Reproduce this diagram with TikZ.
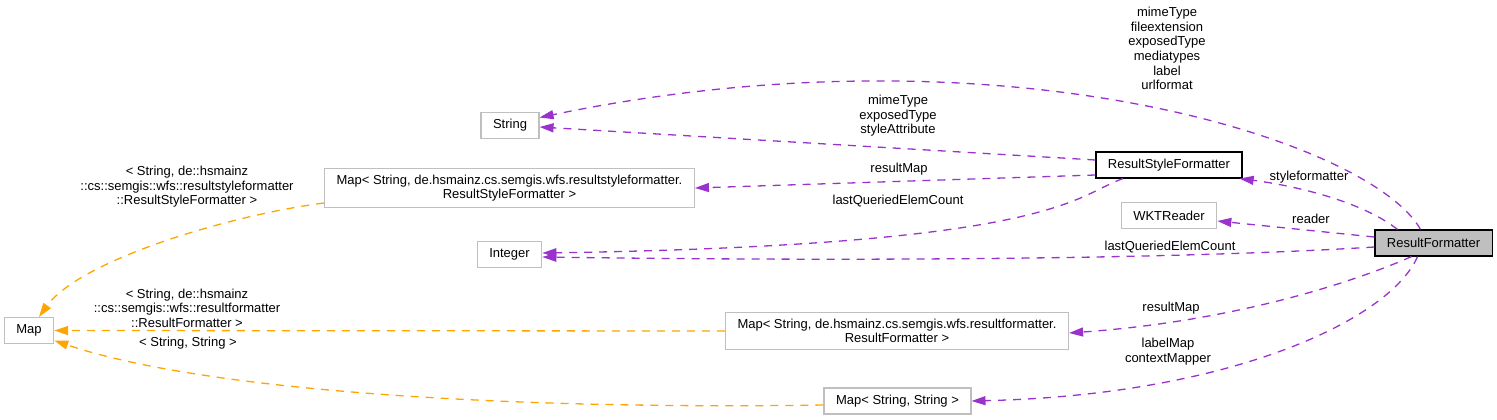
\documentclass[tikz,border=0pt]{standalone}
\usepackage{fontspec}
\setmainfont{Liberation Sans}
\usetikzlibrary{arrows.meta}
\definecolor{darkorchid3}{RGB}{154,50,205}
\definecolor{orange1}{RGB}{255,165,0}
\definecolor{grey75}{RGB}{191,191,191}
\newcommand{\graphfont}{\fontsize{13}{14.6}\selectfont}
\tikzstyle{cls} = [rectangle, draw=grey75, fill=white, line width=1.2pt, align=center,
inner xsep=12pt, inner ysep=6.5pt, minimum height=26pt, font=\graphfont]
\tikzstyle{clsref} = [cls, draw=black]
\tikzstyle{clsmain} = [cls, draw=black, fill=grey75]
\tikzstyle{lbl} = [align=center, inner sep=0pt, font=\graphfont]
\tikzstyle{member} = [darkorchid3, line width=1.3pt, dash pattern=on 8pt off 7pt,
-{Triangle[length=14pt,width=9pt]}]
\tikzstyle{tmpl} = [member, orange1]

\begin{document}
\begin{tikzpicture}[x=1pt, y=-1pt]
  \useasboundingbox (0,0) rectangle (1497,420);

  % classes
  \node (resultfmt) [clsmain] at (1433.5,243) {ResultFormatter};
  \node (stylefmt) [clsref] at (1169,165) {ResultStyleFormatter};
  \node (wktreader) [cls] at (1169,215.5) {WKTReader};
  \node (string) [cls] at (510,125.5) {String};
  \node (mapstyle) [cls] at (509.5,188) {Map< String, de.hsmainz.cs.semgis.wfs.resultstyleformatter.\\ResultStyleFormatter >};
  \node (integer) [cls] at (509.5,254.5) {Integer};
  \node (map) [cls] at (29,330.5) {Map};
  \node (mapresult) [cls] at (897,331) {Map< String, de.hsmainz.cs.semgis.wfs.resultformatter.\\ResultFormatter >};
  \node (mapstrstr) [cls] at (897.5,401) {Map< String, String >};

  % members of ResultFormatter
  \draw[member] ([xshift=-13pt]resultfmt.north) .. controls (1370,140) and (1000,22) .. ([yshift=8pt]string.east);
  \draw[member] ([xshift=-36pt]resultfmt.north) .. controls (1360,200) and (1290,185) .. ([xshift=-3pt]stylefmt.south east);
  \draw[member] ([yshift=6pt]resultfmt.west) -- ([yshift=-5.5pt]wktreader.east);
  \draw[member] ([yshift=-4pt]resultfmt.west) .. controls (1200,258) and (900,262) .. ([yshift=-2.5pt]integer.east);
  \draw[member] ([xshift=-22pt]resultfmt.south) .. controls (1370,275) and (1250,320) .. ([yshift=-2pt]mapresult.east);
  \draw[member] ([xshift=-16pt]resultfmt.south) .. controls (1390,320) and (1230,395) .. (mapstrstr.east);

  % members of ResultStyleFormatter
  \draw[member] ([yshift=5pt]stylefmt.west) -- ([yshift=-1.5pt]string.east);
  \draw[member] ([yshift=-10pt]stylefmt.west) -- (mapstyle.east);
  \draw[member] ([xshift=-46pt]stylefmt.south) .. controls (1075,195) and (1060,245) .. ([yshift=1.5pt]integer.east);

  % template instances of Map
  \draw[tmpl] ([yshift=-15pt]mapstyle.west) .. controls (230,215) and (80,260) .. ([xshift=10pt]map.north);
  \draw[tmpl] (mapresult.west) -- (map.east);
  \draw[tmpl] ([yshift=-4pt]mapstrstr.west) .. controls (500,410) and (200,390) .. ([yshift=-10pt]map.east);

  % edge labels
  \node (lbltop) [lbl] at (1167,48.5) {mimeType\\fileextension\\exposedType\\mediatypes\\label\\urlformat};
  \node (lblstring) [lbl] at (898,116) {mimeType\\exposedType\\styleAttribute};
  \node (lblmapstyle) [lbl] at (899,169) {resultMap};
  \node (lblcount) [lbl] at (898,201) {lastQueriedElemCount};
  \node (lblstylefmt) [lbl] at (1309,177) {styleformatter};
  \node (lblreader) [lbl] at (1311,219) {reader};
  \node (lblcountb) [lbl] at (1170,247) {lastQueriedElemCount};
  \node (lblmapresult) [lbl] at (1171,308) {resultMap};
  \node (lblmapstr) [lbl] at (1168,351.5) {labelMap\\contextMapper};
  \node (lbltmplstyle) [lbl] at (187,187) {< String, de::hsmainz\\::cs::semgis::wfs::resultstyleformatter\\::ResultStyleFormatter >};
  \node (lbltmplresult) [lbl] at (187,308) {< String, de::hsmainz\\::cs::semgis::wfs::resultformatter\\::ResultFormatter >};
  \node (lbltmplstr) [lbl] at (188,343) {< String, String >};
\end{tikzpicture}
\end{document}
